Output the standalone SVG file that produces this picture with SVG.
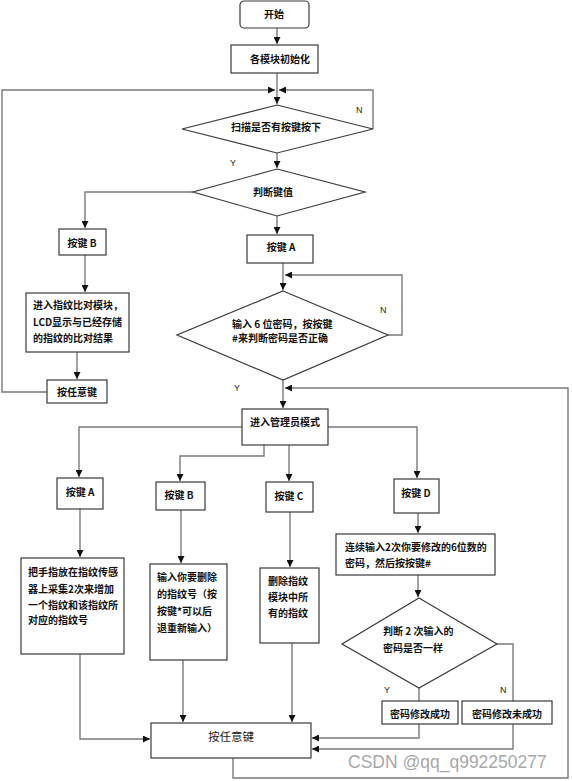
<svg xmlns="http://www.w3.org/2000/svg" width="572" height="781" viewBox="0 0 572 781">
<style>
.box{fill:#fff;stroke:#3a3a3a;stroke-width:1.2}
.t{font-family:"Noto Sans CJK SC","Liberation Sans",sans-serif;font-size:10px;font-weight:bold;fill:#111}
.c{text-anchor:middle}
.lbl{font-family:"Liberation Sans",sans-serif;font-size:9px;fill:#222}
.ln{fill:none;stroke:#7a7a7a;stroke-width:1.4}
</style>
<defs>
<marker id="ah" viewBox="0 0 8 8" refX="8" refY="4" markerWidth="7" markerHeight="7" markerUnits="userSpaceOnUse" orient="auto">
<path d="M0,0 L8,4 L0,8 z" fill="#111"/>
</marker>
</defs>
<rect width="572" height="781" fill="#fff"/>

<g id="connectors">
<path class="ln" d="M277,28 V44" marker-end="url(#ah)"/>
<path class="ln" d="M277,73 V104" marker-end="url(#ah)"/>
<path class="ln" d="M47,392 H2 V90 H275" marker-end="url(#ah)"/>
<path class="ln" d="M373,129 V90 H279" marker-end="url(#ah)"/>
<path class="ln" d="M277,153 V168" marker-end="url(#ah)"/>
<path class="ln" d="M193,192 H85 V228" marker-end="url(#ah)"/>
<path class="ln" d="M277,216 V234" marker-end="url(#ah)"/>
<path class="ln" d="M283,263 V290" marker-end="url(#ah)"/>
<path class="ln" d="M388,335 H402 V275 H285" marker-end="url(#ah)"/>
<path class="ln" d="M85,255 V292" marker-end="url(#ah)"/>
<path class="ln" d="M77,352 V379" marker-end="url(#ah)"/>
<path class="ln" d="M283,380 V408" marker-end="url(#ah)"/>
<path class="ln" d="M233,758 V778 H568 V388 H285" marker-end="url(#ah)"/>
<path class="ln" d="M242,427 H79 V477" marker-end="url(#ah)"/>
<path class="ln" d="M264,445 V456 H180 V481" marker-end="url(#ah)"/>
<path class="ln" d="M289,445 V481" marker-end="url(#ah)"/>
<path class="ln" d="M328,427 H417 V478" marker-end="url(#ah)"/>
<path class="ln" d="M80,509 V557" marker-end="url(#ah)"/>
<path class="ln" d="M181,510 V563" marker-end="url(#ah)"/>
<path class="ln" d="M290,512 V567" marker-end="url(#ah)"/>
<path class="ln" d="M418,513 V533" marker-end="url(#ah)"/>
<path class="ln" d="M80,654 V739 H150" marker-end="url(#ah)"/>
<path class="ln" d="M183,660 V722" marker-end="url(#ah)"/>
<path class="ln" d="M292,643 V722" marker-end="url(#ah)"/>
<path class="ln" d="M418,575 V597" marker-end="url(#ah)"/>
<path class="ln" d="M419,688 V701"/>
<path class="ln" d="M497,644 H513 V701"/>
<path class="ln" d="M419,724 V738 H312" marker-end="url(#ah)"/>
<path class="ln" d="M513,724 V749 H312" marker-end="url(#ah)"/>
<text class="lbl" x="230" y="166">Y</text>
<text class="lbl" x="356" y="113">N</text>
<text class="lbl" x="380" y="313">N</text>
<text class="lbl" x="234" y="391">Y</text>
<text class="lbl" x="384" y="693">Y</text>
<text class="lbl" x="500" y="693">N</text>
</g>

<g id="start">
<rect class="box" x="240" y="1" width="69" height="27" rx="4"/>
<text class="t c" x="274" y="18">开始</text>
</g>
<g id="init">
<rect class="box" x="231" y="45" width="87" height="28"/>
<text class="t c" x="280" y="63">各模块初始化</text>
</g>
<g id="scan">
<polygon class="box" points="277,105 373,129 277,153 182,129"/>
<text class="t c" x="276" y="131">扫描是否有按键按下</text>
</g>
<g id="judge">
<polygon class="box" points="277,169 365,192 277,216 193,192"/>
<text class="t c" x="273" y="196">判断键值</text>
</g>
<g id="keyB">
<rect class="box" x="59" y="229" width="47" height="26"/>
<text class="t c" x="82" y="247">按键 B</text>
</g>
<g id="keyA">
<rect class="box" x="247" y="235" width="66" height="28"/>
<text class="t c" x="281" y="251">按键 A</text>
</g>
<g id="pwd">
<polygon class="box" points="283,291 388,335 283,380 177,335"/>
<text class="t" x="232" y="328">输入 6 位密码，按按键</text>
<text class="t" x="232" y="342">#来判断密码是否正确</text>
</g>
<g id="compare">
<rect class="box" x="26" y="293" width="103" height="59"/>
<text class="t" x="33" y="309">进入指纹比对模块，</text>
<text class="t" x="33" y="326">LCD显示与已经存储</text>
<text class="t" x="33" y="342">的指纹的比对结果</text>
</g>
<g id="anykey1">
<rect class="box" x="47" y="380" width="60" height="23"/>
<text class="t c" x="77" y="396">按任意键</text>
</g>
<g id="admin">
<rect class="box" x="242" y="409" width="86" height="36"/>
<text class="t c" x="285" y="426">进入管理员模式</text>
</g>
<g id="keyA2">
<rect class="box" x="57" y="478" width="46" height="31"/>
<text class="t c" x="80" y="496">按键 A</text>
</g>
<g id="keyB2">
<rect class="box" x="156" y="482" width="49" height="28"/>
<text class="t c" x="179" y="499">按键 B</text>
</g>
<g id="keyC2">
<rect class="box" x="266" y="482" width="47" height="30"/>
<text class="t c" x="289" y="500">按键 C</text>
</g>
<g id="keyD2">
<rect class="box" x="394" y="479" width="45" height="34"/>
<text class="t c" x="416" y="497">按键 D</text>
</g>
<g id="addFp">
<rect class="box" x="21" y="558" width="103" height="96"/>
<text class="t" x="28" y="576">把手指放在指纹传感</text>
<text class="t" x="28" y="593">器上采集2次来增加</text>
<text class="t" x="28" y="609">一个指纹和该指纹所</text>
<text class="t" x="28" y="624">对应的指纹号</text>
</g>
<g id="delFp">
<rect class="box" x="150" y="564" width="77" height="96"/>
<text class="t" x="157" y="581">输入你要删除</text>
<text class="t" x="157" y="598">的指纹号（按</text>
<text class="t" x="157" y="615">按键*可以后</text>
<text class="t" x="157" y="632">退重新输入）</text>
</g>
<g id="delAll">
<rect class="box" x="260" y="568" width="59" height="75"/>
<text class="t" x="268" y="585">删除指纹</text>
<text class="t" x="268" y="601">模块中所</text>
<text class="t" x="268" y="617">有的指纹</text>
</g>
<g id="changePwd">
<rect class="box" x="336" y="534" width="159" height="41"/>
<text class="t" x="345" y="551">连续输入2次你要修改的6位数的</text>
<text class="t" x="345" y="567">密码，然后按按键#</text>
</g>
<g id="same">
<polygon class="box" points="419,598 497,644 419,688 342,644"/>
<text class="t" x="383" y="635">判断 2 次输入的</text>
<text class="t" x="383" y="652">密码是否一样</text>
</g>
<g id="ok">
<rect class="box" x="382" y="701" width="76" height="23"/>
<text class="t c" x="420" y="718">密码修改成功</text>
</g>
<g id="fail">
<rect class="box" x="462" y="701" width="90" height="23"/>
<text class="t c" x="507" y="718">密码修改未成功</text>
</g>
<g id="anykey2">
<rect class="box" x="151" y="723" width="160" height="35"/>
<text x="231" y="741" text-anchor="middle" font-family="'Noto Sans CJK SC','Liberation Sans',sans-serif" font-size="11.5" fill="#222">按任意键</text>
</g>
<text x="348" y="768" font-family="'Liberation Sans',Arial,sans-serif" font-size="17.5" fill="#a8a8a8">CSDN @qq_q992250277</text>
</svg>
